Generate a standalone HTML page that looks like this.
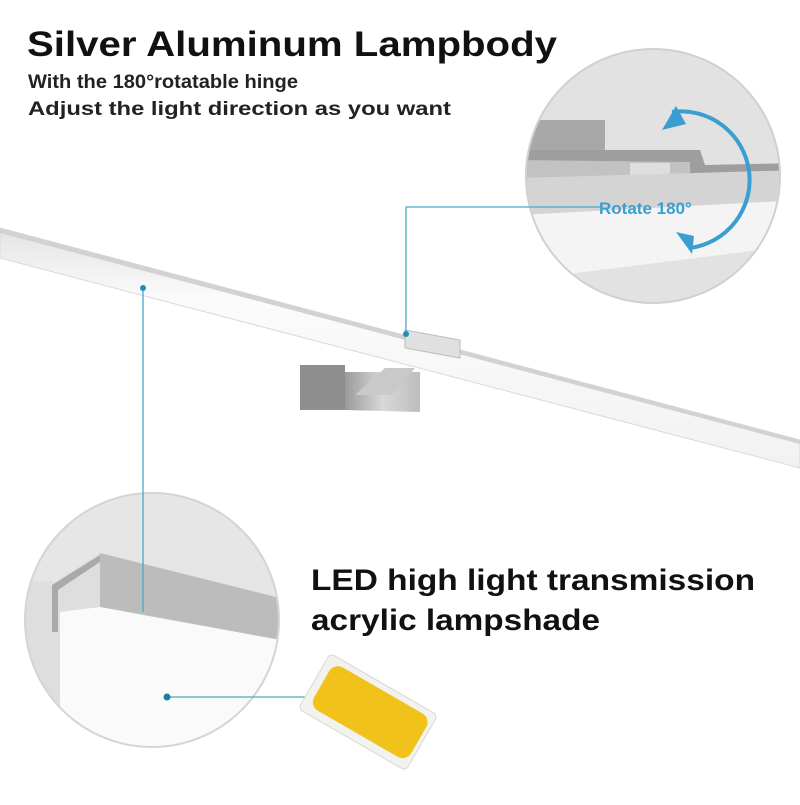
<!DOCTYPE html>
<html><head><style>
body{margin:0;width:800px;height:800px;background:#fff;overflow:hidden;font-family:"Liberation Sans",sans-serif}
</style></head><body>
<svg width="800" height="800" viewBox="0 0 800 800" xmlns="http://www.w3.org/2000/svg">
<defs>
<clipPath id="c1"><circle cx="653" cy="176" r="126"/></clipPath>
<clipPath id="c2"><circle cx="152" cy="620" r="126"/></clipPath>
<linearGradient id="bar" x1="0" y1="0" x2="0" y2="1"><stop offset="0" stop-color="#e4e4e4"/><stop offset="0.3" stop-color="#fbfbfb"/><stop offset="1" stop-color="#f2f2f2"/></linearGradient>
<linearGradient id="brk" x1="0" y1="0" x2="1" y2="0"><stop offset="0" stop-color="#9a9a9a"/><stop offset="0.5" stop-color="#d8d8d8"/><stop offset="1" stop-color="#bdbdbd"/></linearGradient>
</defs>
<circle cx="653" cy="176" r="127" fill="#e2e2e2" stroke="#d0d0d0" stroke-width="2"/>
<g clip-path="url(#c1)">
<polygon points="520,120 605,120 605,150 520,150" fill="#a8a8a8"/>
<polygon points="520,150 700,150 705,165 800,163 800,175 690,178 520,182" fill="#9e9e9e"/>
<polygon points="520,160 690,162 690,178 520,178" fill="#c2c2c2"/>
<rect x="630" y="163" width="40" height="18" fill="#dedede"/>
<polygon points="520,205 800,195 800,245 520,280" fill="#f4f4f4"/>
<polygon points="520,178 800,170 800,200 520,215" fill="#d4d4d4"/>
</g>
<path d="M672,112 A62,62 0 0 1 690,248" fill="none" stroke="#3a9fd0" stroke-width="4"/>
<polygon points="662,130 676,106 686,124" fill="#3a9fd0"/>
<polygon points="676,232 692,254 694,236" fill="#3a9fd0"/>
<text x="599" y="214" font-size="17" font-weight="bold" fill="#3a9fd0">Rotate 180°</text>
<circle cx="152" cy="620" r="127" fill="#e6e6e6" stroke="#d4d4d4" stroke-width="2"/>
<g clip-path="url(#c2)">
<polygon points="55,582 100,553 100,610 60,612 60,760 25,760 25,580" fill="#dedede"/>
<polygon points="52,585 100,555 100,562 58,590 58,632 52,632" fill="#aaa"/>
<polygon points="100,553 280,598 280,640 100,607" fill="#bcbcbc"/>
<polygon points="60,612 100,607 280,640 280,760 60,760" fill="#fafafa"/>
</g>
<polygon points="0,228 800,440 800,468 0,258" fill="url(#bar)" stroke="#dadada" stroke-width="1"/>
<polygon points="0,228 800,440 800,444 0,233" fill="#d2d2d2"/>
<polygon points="405,330 460,340 460,358 405,348" fill="#e0e0e0" stroke="#bbb"/>
<polygon points="300,365 345,365 345,410 300,410" fill="#8e8e8e"/>
<polygon points="345,372 420,372 420,412 345,410" fill="url(#brk)"/>
<polygon points="355,395 385,368 415,368 392,395" fill="#c9c9c9"/>
<g stroke="#4aa8c8" stroke-width="1.3" fill="none">
<path d="M143,288 V612"/>
<path d="M406,334 V207 H600"/>
<path d="M167,697 H340"/>
</g>
<circle cx="143" cy="288" r="3" fill="#1f8fb8"/>
<circle cx="406" cy="334" r="3" fill="#1f8fb8"/>
<circle cx="167" cy="697" r="3.5" fill="#1f7ea0"/>
<g transform="translate(368,712) rotate(30)">
<rect x="-62" y="-32" width="124" height="64" rx="5" fill="#f2f2ee" stroke="#d8d8d0"/>
<rect x="-54" y="-26" width="112" height="50" rx="10" fill="#f0c21a"/>
</g>
<text x="27" y="56" font-size="35" font-weight="bold" fill="#111" textLength="530" lengthAdjust="spacingAndGlyphs">Silver Aluminum Lampbody</text>
<text x="28" y="88" font-size="19" font-weight="bold" fill="#222" textLength="270" lengthAdjust="spacingAndGlyphs">With the 180°rotatable hinge</text>
<text x="28" y="115" font-size="19" font-weight="bold" fill="#222" textLength="423" lengthAdjust="spacingAndGlyphs">Adjust the light direction as you want</text>
<text x="311" y="590" font-size="30" font-weight="bold" fill="#111" textLength="444" lengthAdjust="spacingAndGlyphs">LED high light transmission</text>
<text x="311" y="630" font-size="30" font-weight="bold" fill="#111" textLength="289" lengthAdjust="spacingAndGlyphs">acrylic lampshade</text>
</svg>
</body></html>
